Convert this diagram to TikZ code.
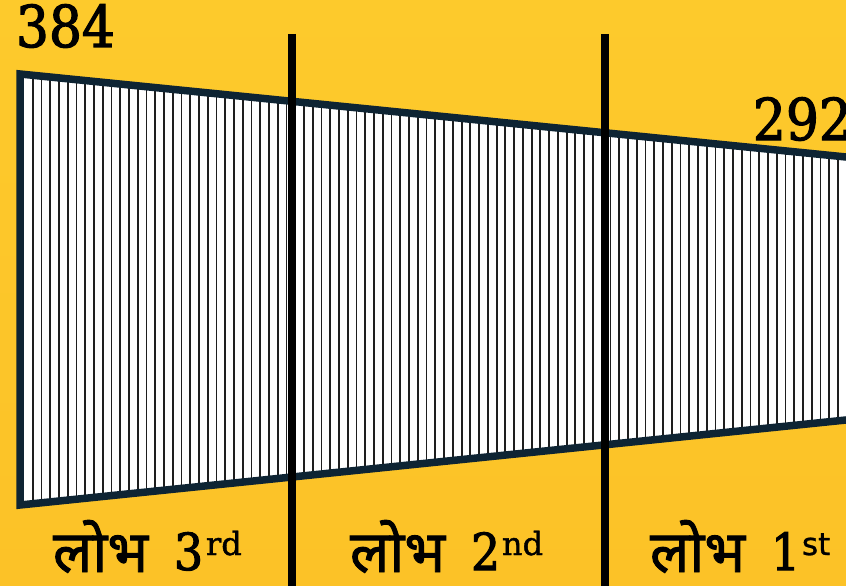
\documentclass[tikz,border=0pt]{standalone}
\usepackage{fontspec}
\newfontfamily\numfont[FakeStretch=0.9,FakeBold=2]{DejaVu Serif}
\newfontfamily\supfont[FakeBold=1.2]{DejaVu Serif}
\newfontfamily\supsans[FakeBold=1]{DejaVu Sans}
\newfontfamily\devafont[Script=Devanagari,FakeBold=1.6]{Noto Sans}
\definecolor{bgtop}{HTML}{FDCA2C}
\definecolor{bgbot}{HTML}{FCC227}
\definecolor{navy}{HTML}{0E2433}
\definecolor{hatchc}{HTML}{1E1E1E}
\tikzset{
  outline/.style={draw=navy,line width=7.5pt,line join=miter},
  hatchline/.style={draw=hatchc,line width=1.8pt},
  divbar/.style={draw=black,line width=8pt,line cap=butt},
  lbl/.style={inner sep=0pt,outer sep=0pt,anchor=base west,text=black},
}
\newcommand{\bignum}{\numfont\fontsize{57.6}{60}\selectfont}
\newcommand{\midnum}{\numfont\fontsize{51}{56}\selectfont}
\newcommand{\supnum}{\supfont\fontsize{32}{34}\selectfont}
\newcommand{\supsf}{\supsans\fontsize{31}{34}\selectfont}
\newcommand{\devatext}{\devafont\fontsize{58}{64}\selectfont}
\begin{document}
\begin{tikzpicture}[x=1pt,y=-1pt]
\useasboundingbox (0,0) rectangle (846,586);
\clip (0,0) rectangle (846,586);
\shade[top color=bgtop,bottom color=bgbot] (0,0) rectangle (846,586);
% trapezoid
\coordinate (tl) at (20,74);
\coordinate (tr) at (880,160.4);
\coordinate (br) at (880,416.5);
\coordinate (bl) at (20,505);
\fill[white] (tl) -- (tr) -- (br) -- (bl) -- cycle;
\begin{scope}
  \clip (tl) -- (tr) -- (br) -- (bl) -- cycle;
  \foreach \i in {0,...,97} {
    \draw[hatchline] ({32.7+8.753*\i},60) -- ++(0,470);
  }
\end{scope}
\draw[outline] (tl) -- (tr) -- (br) -- (bl) -- cycle;
% dividers
\coordinate (d1t) at (291.5,34);
\coordinate (d1b) at (291.5,590);
\coordinate (d2t) at (604.5,34);
\coordinate (d2b) at (604.5,590);
\draw[divbar] (d1t) -- (d1b);
\draw[divbar] (d2t) -- (d2b);
% numbers
\node[lbl] (n384) at (16,47) {\bignum 384};
\node[lbl] (n292) at (753,140) {\bignum 292};
% labels
\node[lbl] (l3d) at (53,572) {\devatext लोभ};
\node[lbl] (l3n) at (174,570) {\midnum 3};
\node[lbl] (l3s) at (206,555) {\supnum rd};
\node[lbl] (l2d) at (350,572) {\devatext लोभ};
\node[lbl] (l2n) at (471,570) {\midnum 2};
\node[lbl] (l2s) at (502,555) {\supnum nd};
\node[lbl] (l1d) at (650,572) {\devatext लोभ};
\node[lbl] (l1n) at (771,570) {\midnum 1};
\node[lbl] (l1s) at (802,555) {\supsf st};
\end{tikzpicture}
\end{document}
